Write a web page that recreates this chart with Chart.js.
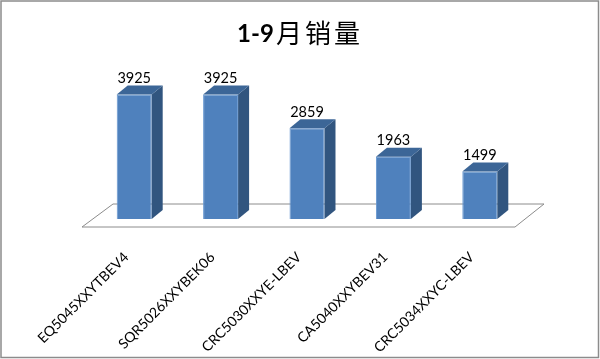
<!DOCTYPE html>
<html>
<head>
<meta charset="utf-8">
<script src="https://cdn.jsdelivr.net/npm/chart.js@4.4.0/dist/chart.umd.min.js"></script>
<style>
html, body { margin: 0; padding: 0; background: #fff; }
canvas { display: block; }
</style>
</head>
<body>
<canvas id="salesChart" width="600" height="359"></canvas>
<script>
// data
var titleNum = '1-9';
var titleText = '月销量';
var models = ['EQ5045XXYTBEV4', 'SQR5026XXYBEK06', 'CRC5030XXYE-LBEV', 'CA5040XXYBEV31', 'CRC5034XXYC-LBEV'];
var sales = [3925, 3925, 2859, 1963, 1499];
var yMax = 4000;

// colors
var frontColor = '#4f81bd';
var sideColor = '#31557f';
var topColor = '#3c6697';
var depthX = 11, depthY = 9;

// plugin draw frame, title, floor, and the 3D faces
var bar3d = {
    id: 'bar3d',
    beforeDraw: function (chart) {
        var ctx = chart.ctx;
        ctx.save();
        ctx.fillStyle = '#fff';
        ctx.fillRect(0, 0, chart.width, chart.height);
        ctx.strokeStyle = '#8c8c8c';
        ctx.lineWidth = 1.5;
        ctx.strokeRect(1, 1, chart.width - 2.5, chart.height - 2.5);

        // title: bold numbers + regular CJK
        ctx.fillStyle = '#000';
        ctx.textBaseline = 'alphabetic';
        ctx.font = 'bold 24px Lato, "Liberation Sans", sans-serif';
        var w1 = ctx.measureText(titleNum).width;
        ctx.font = '26px "Noto Sans CJK SC", sans-serif';
        ctx.letterSpacing = '3px';
        var w2 = ctx.measureText(titleText).width;
        var x0 = chart.width / 2 - (w1 + 2 + w2) / 2;
        ctx.font = 'bold 24px Lato, "Liberation Sans", sans-serif';
        ctx.letterSpacing = '0px';
        ctx.textAlign = 'left';
        ctx.fillText(titleNum, x0, 42);
        ctx.font = '26px "Noto Sans CJK SC", sans-serif';
        ctx.letterSpacing = '3px';
        ctx.fillText(titleText, x0 + w1 + 2, 43);
        ctx.restore();
    },
    beforeDatasetsDraw: function (chart) {
        // floor (parallelogram under the bars)
        var ctx = chart.ctx;
        var a = chart.chartArea;
        var base = chart.scales.y.getPixelForValue(0);
        ctx.save();
        ctx.beginPath();
        ctx.moveTo(a.left + 22, base - 15);
        ctx.lineTo(a.right + 21, base - 15);
        ctx.lineTo(a.right - 8, base + 8);
        ctx.lineTo(a.left - 9, base + 8);
        ctx.closePath();
        ctx.fillStyle = '#fff';
        ctx.fill();
        ctx.strokeStyle = '#8c8c8c';
        ctx.lineWidth = 1;
        ctx.stroke();
        ctx.restore();
    },
    afterDatasetsDraw: function (chart) {
        var ctx = chart.ctx;
        var meta = chart.getDatasetMeta(0);
        ctx.save();
        meta.data.forEach(function (bar, i) {
            var p = bar.getProps(['x', 'y', 'base', 'width'], true);
            var l = p.x - p.width / 2, r = p.x + p.width / 2;
            // side face
            ctx.beginPath();
            ctx.moveTo(r, p.y);
            ctx.lineTo(r + depthX, p.y - depthY);
            ctx.lineTo(r + depthX, p.base - depthY);
            ctx.lineTo(r, p.base);
            ctx.closePath();
            ctx.fillStyle = sideColor;
            ctx.fill();
            // top face
            ctx.beginPath();
            ctx.moveTo(l, p.y);
            ctx.lineTo(l + depthX, p.y - depthY);
            ctx.lineTo(r + depthX, p.y - depthY);
            ctx.lineTo(r, p.y);
            ctx.closePath();
            ctx.fillStyle = topColor;
            ctx.fill();
            // value label
            ctx.fillStyle = '#000';
            ctx.font = '14.5px Lato, sans-serif';
            ctx.textAlign = 'center';
            ctx.textBaseline = 'middle';
            ctx.fillText(String(sales[i]), p.x, p.y - 16);
        });
        ctx.restore();
    }
};

var ctx = document.getElementById('salesChart').getContext('2d');
window.salesChart = new Chart(ctx, {
    type: 'bar',
    data: {
        labels: models,
        datasets: [{
            label: titleNum + titleText,
            data: sales,
            backgroundColor: frontColor,
            borderColor: '#6596d0',
            borderWidth: 1,
            barPercentage: 0.405,
            categoryPercentage: 1
        }]
    },
    options: {
        responsive: false,
        animation: false,
        devicePixelRatio: 1,
        layout: { padding: { left: 91, right: 77, top: 92, bottom: 0 } },
        plugins: {
            legend: { display: false },
            tooltip: { enabled: false },
            title: { display: false }
        },
        scales: {
            x: {
                grid: { display: false },
                border: { display: false },
                ticks: {
                    color: '#000',
                    font: { family: 'Lato', size: 14 },
                    minRotation: 45,
                    maxRotation: 45,
                    autoSkip: false,
                    padding: 22,
                    labelOffset: -8
                },
                afterFit: function (scale) { scale.height = 140; }
            },
            y: {
                display: false,
                min: 0,
                max: yMax
            }
        }
    },
    plugins: [bar3d]
});
</script>
</body>
</html>
